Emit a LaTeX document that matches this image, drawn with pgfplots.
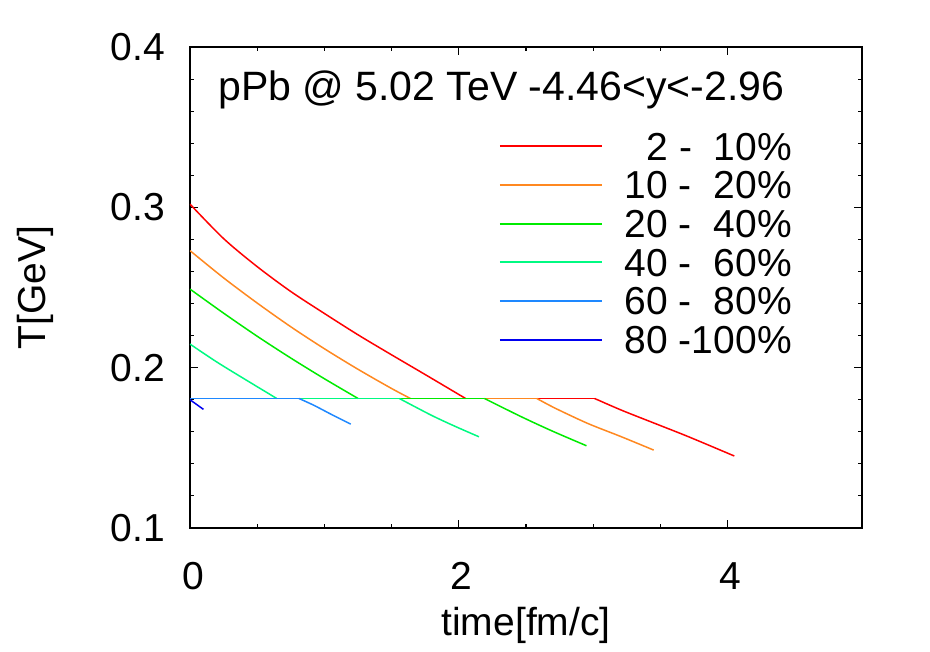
\documentclass[border=0pt]{standalone}
\usepackage{fontspec}
\setmainfont{Liberation Sans}
\usepackage{pgfplots}
\pgfplotsset{compat=1.18}
\usetikzlibrary{calc}
\definecolor{c1}{RGB}{255,0,0}
\definecolor{c2}{RGB}{255,136,32}
\definecolor{c3}{RGB}{0,235,0}
\definecolor{c4}{RGB}{0,250,130}
\definecolor{c5}{RGB}{30,136,255}
\definecolor{c6}{RGB}{0,0,240}
\begin{document}
\begin{tikzpicture}
\begin{axis}[
  name=ax,
  scale only axis,
  width=672pt, height=481pt,
  xmin=0, xmax=5, ymin=0.1, ymax=0.4,
  xtick={0,2,4}, minor x tick num=3,
  ytick={0.1,0.2,0.3,0.4}, minor y tick num=4,
  tick align=inside,
  major tick length=8pt, minor tick length=4.5pt,
  axis line style={line width=1.2pt, black},
  every tick/.style={line width=1.1pt, black},
  /pgf/number format/assume math mode=true,
  tick label style={font=\fontsize{39}{46}\selectfont},
  xticklabel style={anchor=north, inner sep=0pt, yshift=-34pt, xshift=3pt},
  yticklabel style={anchor=east, inner sep=0pt, xshift=-25pt,
     /pgf/number format/fixed, /pgf/number format/fixed zerofill, /pgf/number format/precision=1},
  xlabel={time[fm/c]}, ylabel={T[GeV]},
  label style={font=\fontsize{39}{46}\selectfont},
  xlabel style={at={(axis description cs:0.5,-0.2017)}, anchor=center, inner sep=0pt},
  ylabel style={at={(axis description cs:-0.2307,0.5)}, anchor=center, inner sep=0pt},
  legend cell align=right,
  legend style={at={(rel axis cs:0.8958,0.8233)}, anchor=north east, draw=none, fill=none,
     inner sep=0pt, row sep=10.7pt, column sep=22pt, font=\fontsize{39}{46}\selectfont,
     nodes={inner sep=0pt, text height=28pt, text depth=0pt}},
  legend image code/.code={\draw[#1, line width=2pt] (0pt,0pt) -- (102pt,0pt);},
  every axis plot/.append style={line width=1.5pt},
]
% 2-10%
\addplot[c1, smooth] coordinates {(0,0.302) (0.25,0.2805) (0.5,0.2630) (0.75,0.2475) (1.0,0.2338) (1.25,0.2205) (1.5,0.2080) (1.75,0.1957) (2.05,0.1808)};
\addlegendentry{2 -\hphantom{0}10\%}
\addplot[c1, forget plot] coordinates {(2.05,0.1808) (3.01,0.1808)};
\addplot[c1, smooth, forget plot] coordinates {(3.01,0.1808) (3.21,0.1735) (3.46,0.1652) (3.71,0.1569) (4.05,0.1449)};
% 10-20%
\addplot[c2, smooth] coordinates {(0,0.273) (0.25,0.256) (0.5,0.2403) (0.75,0.2255) (1.0,0.2118) (1.25,0.1990) (1.5,0.1870) (1.64,0.1808)};
\addlegendentry{10 -\hphantom{0}20\%}
\addplot[c2, forget plot] coordinates {(1.64,0.1808) (2.58,0.1808)};
\addplot[c2, smooth, forget plot] coordinates {(2.58,0.1808) (2.72,0.1746) (2.96,0.1652) (3.21,0.1569) (3.45,0.1486)};
% 20-40%
\addplot[c3, smooth] coordinates {(0,0.249) (0.25,0.2340) (0.5,0.2196) (0.75,0.2060) (1.0,0.1931) (1.25,0.1808)};
\addlegendentry{20 -\hphantom{0}40\%}
\addplot[c3, forget plot] coordinates {(1.25,0.1808) (2.19,0.1808)};
\addplot[c3, smooth, forget plot] coordinates {(2.19,0.1808) (2.47,0.1692) (2.7,0.1603) (2.95,0.1513)};
% 40-60%
\addplot[c4, smooth] coordinates {(0,0.2147) (0.2,0.2035) (0.4,0.1932) (0.645,0.1808)};
\addlegendentry{40 -\hphantom{0}60\%}
\addplot[c4, forget plot] coordinates {(0.645,0.1808) (1.557,0.1808)};
\addplot[c4, smooth, forget plot] coordinates {(1.557,0.1808) (1.794,0.1704) (1.97,0.1635) (2.15,0.1569)};
% 60-80%
\addplot[c5] coordinates {(0,0.1808) (0.81,0.1808)};
\addlegendentry{60 -\hphantom{0}80\%}
\addplot[c5, smooth, forget plot] coordinates {(0.81,0.1808) (0.92,0.1766) (1.06,0.1705) (1.196,0.1648)};
% 80-100%
\addplot[c6] coordinates {(0,0.1800) (0.1,0.174)};
\addlegendentry{80 -100\%}
\node[anchor=base west, inner sep=0pt, font=\fontsize{41}{48}\selectfont] at (rel axis cs:0.0417,0.8886) {pPb @ 5.02 TeV -4.46<y<-2.96};
\end{axis}
\pgfresetboundingbox
\path[use as bounding box] ($(ax.south west)+(-190pt,-123pt)$) rectangle ($(ax.north east)+(68pt,47pt)$);
\end{tikzpicture}
\end{document}
